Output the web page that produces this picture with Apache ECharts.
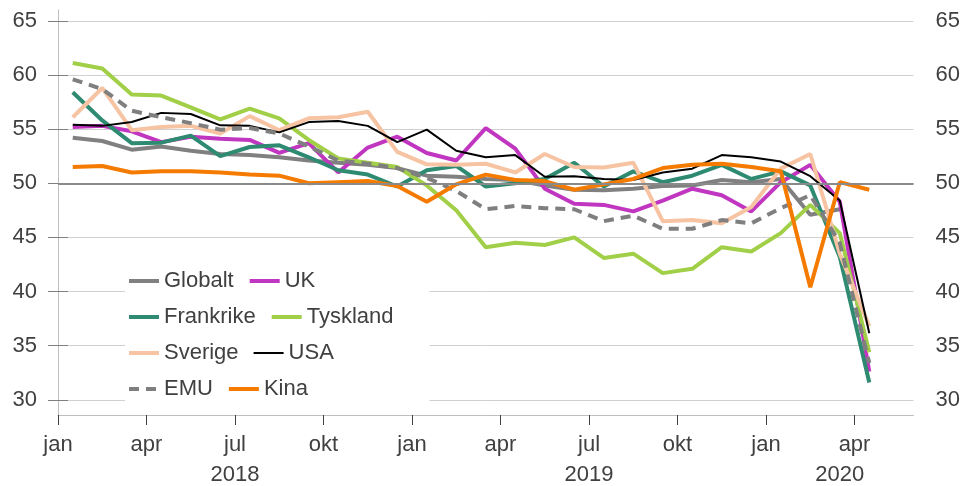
<!DOCTYPE html>
<html>
<head>
<meta charset="utf-8">
<script src="https://cdn.jsdelivr.net/npm/echarts@6/dist/echarts.min.js"></script>
<style>
  html, body { margin: 0; padding: 0; background: #fff; }
  #chart { width: 963px; height: 486px; }
</style>
</head>
<body>
<div id="chart"></div>
<script>
// PMI industri, jan 2018 - apr 2020
const months = [
  'jan 2018', 'feb 2018', 'mar 2018', 'apr 2018', 'mai 2018', 'jun 2018',
  'jul 2018', 'aug 2018', 'sep 2018', 'okt 2018', 'nov 2018', 'des 2018',
  'jan 2019', 'feb 2019', 'mar 2019', 'apr 2019', 'mai 2019', 'jun 2019',
  'jul 2019', 'aug 2019', 'sep 2019', 'okt 2019', 'nov 2019', 'des 2019',
  'jan 2020', 'feb 2020', 'mar 2020', 'apr 2020'
];

const globalt   = [54.2, 53.9, 53.1, 53.4, 53.0, 52.7, 52.6, 52.4, 52.1, 51.9, 51.7, 51.4, 50.7, 50.6, 50.4, 50.3, 49.8, 49.4, 49.35, 49.5, 49.75, 49.8, 50.3, 50.1, 50.4, 47.1, 47.6, null];
const uk        = [55.2, 55.3, 54.8, 53.8, 54.3, 54.1, 54.0, 52.8, 53.7, 51.0, 53.3, 54.3, 52.8, 52.1, 55.1, 53.2, 49.5, 48.1, 48.0, 47.4, 48.4, 49.5, 48.9, 47.4, 50.1, 51.7, 48.3, 32.6];
const frankrike = [58.4, 55.8, 53.7, 53.75, 54.4, 52.5, 53.35, 53.5, 52.4, 51.2, 50.8, 49.7, 51.2, 51.6, 49.7, 50.0, 50.4, 51.9, 49.7, 51.1, 50.1, 50.7, 51.7, 50.4, 51.1, 49.8, 43.2, 31.6];
const tyskland  = [61.1, 60.6, 58.2, 58.1, 57.0, 55.9, 56.9, 56.0, 54.0, 52.3, 51.9, 51.5, 49.8, 47.5, 44.1, 44.5, 44.3, 45.0, 43.1, 43.5, 41.7, 42.1, 44.1, 43.7, 45.4, 48.0, 45.4, 34.4];
const sverige   = [56.1, 58.8, 54.9, 55.2, 55.3, 54.6, 56.2, 54.9, 56.0, 56.1, 56.6, 52.9, 51.75, 51.7, 51.8, 51.0, 52.7, 51.5, 51.45, 51.9, 46.5, 46.6, 46.3, 47.8, 51.35, 52.7, 43.5, 36.8];
const usa       = [55.4, 55.3, 55.65, 56.5, 56.4, 55.35, 55.3, 54.7, 55.65, 55.75, 55.3, 53.8, 54.95, 53.0, 52.4, 52.6, 50.6, 50.65, 50.4, 50.3, 51.0, 51.35, 52.6, 52.4, 52.0, 50.65, 48.4, 36.15];
const emu       = [59.6, 58.7, 56.7, 56.1, 55.55, 54.95, 55.1, 54.6, 53.4, 52.1, 51.8, 51.4, 50.5, 49.3, 47.6, 47.9, 47.7, 47.6, 46.5, 47.0, 45.8, 45.8, 46.6, 46.3, 47.7, 48.9, 44.5, 33.4];
const kina      = [51.5, 51.6, 51.0, 51.1, 51.1, 51.0, 50.8, 50.7, 50.0, 50.1, 50.2, 49.75, 48.3, 49.9, 50.8, 50.3, 50.2, 49.4, 49.9, 50.4, 51.4, 51.7, 51.8, 51.5, 51.1, 40.4, 50.1, 49.4];

// akse: maaneder fra jan 2018 (0) til jun 2020 (29)
const monthNames = ['jan', 'feb', 'mar', 'apr', 'mai', 'jun', 'jul', 'aug', 'sep', 'okt', 'nov', 'des'];
const monthTicks = [0, 3, 6, 9, 12, 15, 18, 21, 24, 27];
const yearLabels = ['2018', '2019', '2020'];
const yearPos = [6, 18, 26.5];
const yTicks = [30, 35, 40, 45, 50, 55, 60, 65];

const FONT = 'Liberation Sans, Arial, sans-serif';
const TXT = '#404040';

// punkt midt i maaneden
const toPoints = (values) => values.map((v, i) => [i + 0.5, v]);

const makeSeries = (name, values, color, width, type) => ({
  name: name,
  type: 'line',
  data: toPoints(values),
  symbol: 'none',
  showSymbol: false,
  connectNulls: false,
  lineStyle: { color: color, width: width, type: type || 'solid' },
  itemStyle: { color: color }
});

const getOptions = () => {
  const globaltSeries = makeSeries('Globalt', globalt, '#808080', 4);
  globaltSeries.markLine = {
    silent: true,
    symbol: 'none',
    label: { show: false },
    lineStyle: { color: '#8a8a8a', width: 2, type: 'solid' },
    data: [{ yAxis: 50 }]
  };

  return {
    animation: false,
    textStyle: { fontFamily: FONT },
    grid: { left: 58, right: 48, top: 10, bottom: 71 },
    legend: {
      left: 125,
      top: 260,
      width: 290,
      padding: [10, 36, 14, 2],
      backgroundColor: '#fff',
      itemWidth: 30,
      itemHeight: 14,
      itemGap: 14,
      textStyle: { fontSize: 22, color: TXT, fontFamily: FONT },
      lineStyle: { width: 'inherit' },
      itemStyle: { opacity: 0 },
      data: ['Globalt', 'UK', 'Frankrike', 'Tyskland', 'Sverige', 'USA', 'EMU', 'Kina']
    },
    xAxis: [
      {
        type: 'value',
        min: 0,
        max: 29,
        axisLine: { show: true, lineStyle: { color: '#bfbfbf', width: 1 } },
        axisTick: {
          show: true,
          length: 10,
          customValues: monthTicks,
          lineStyle: { color: '#404040', width: 1 }
        },
        axisLabel: {
          customValues: monthTicks,
          margin: 19,
          fontSize: 22,
          color: TXT,
          fontFamily: FONT,
          formatter: (v) => monthNames[Math.round(v) % 12]
        },
        splitLine: { show: false }
      },
      {
        type: 'value',
        min: 0,
        max: 29,
        position: 'bottom',
        axisLine: { show: false },
        axisTick: { show: false },
        axisLabel: {
          customValues: yearPos,
          margin: 49,
          fontSize: 22,
          color: TXT,
          fontFamily: FONT,
          formatter: (v) => yearLabels[yearPos.indexOf(v)]
        },
        splitLine: { show: false }
      }
    ],
    yAxis: [
      {
        type: 'value',
        min: 28.6,
        max: 66,
        axisLine: { show: true, lineStyle: { color: '#bfbfbf', width: 1 } },
        axisTick: {
          show: true,
          length: 10,
          customValues: yTicks,
          lineStyle: { color: '#7f7f7f' }
        },
        axisLabel: {
          customValues: yTicks,
          margin: 21,
          fontSize: 22,
          color: TXT,
          fontFamily: FONT
        },
        splitLine: { show: true, lineStyle: { color: '#d0d0d0', width: 1 } }
      },
      {
        type: 'value',
        min: 28.6,
        max: 66,
        position: 'right',
        axisLine: { show: true, lineStyle: { color: '#bfbfbf', width: 1 } },
        axisTick: {
          show: true,
          length: 10,
          customValues: yTicks,
          lineStyle: { color: '#7f7f7f' }
        },
        axisLabel: {
          customValues: yTicks,
          margin: 22,
          fontSize: 22,
          color: TXT,
          fontFamily: FONT
        },
        splitLine: { show: false }
      }
    ],
    series: [
      globaltSeries,
      makeSeries('UK', uk, '#c036c0', 4),
      makeSeries('Frankrike', frankrike, '#2e8b72', 4),
      makeSeries('Tyskland', tyskland, '#a2cf48', 4),
      makeSeries('Sverige', sverige, '#f6c3a3', 4),
      makeSeries('USA', usa, '#000000', 2),
      makeSeries('EMU', emu, '#7f7f7f', 4, [10, 7]),
      makeSeries('Kina', kina, '#f57b00', 4)
    ]
  };
};

const chart = echarts.init(document.getElementById('chart'));
chart.setOption(getOptions());
</script>
</body>
</html>
